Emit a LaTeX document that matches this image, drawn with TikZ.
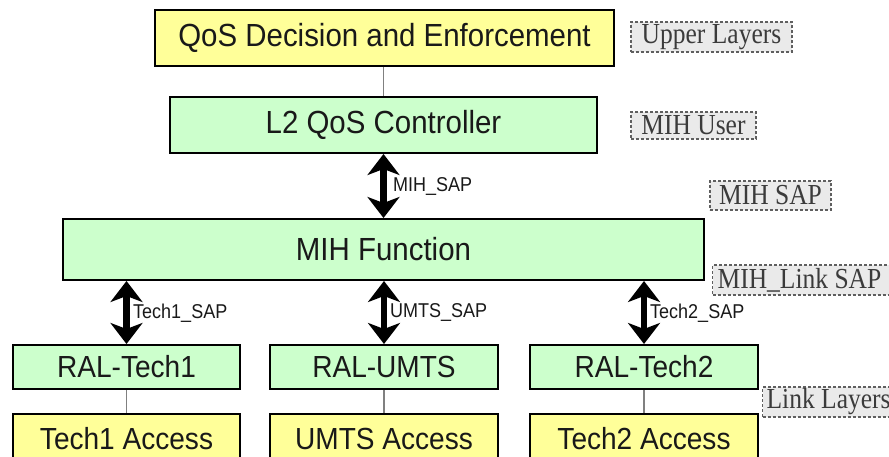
\documentclass[tikz,border=0pt]{standalone}
\usepackage{fontspec}
\setmainfont{Liberation Sans}[FakeStretch=0.92]
\newfontfamily\labfont{Liberation Serif}[FakeStretch=0.88]
\newfontfamily\sapfont{Liberation Sans}[FakeStretch=0.9]
\usetikzlibrary{arrows.meta}
\definecolor{boxyellow}{RGB}{255,255,153}
\definecolor{boxgreen}{RGB}{204,255,204}
\definecolor{labfill}{RGB}{234,234,234}
\definecolor{labdraw}{RGB}{95,95,95}
\definecolor{txt}{RGB}{25,25,25}
\tikzset{
  basebox/.style={draw=black, line width=2pt, inner sep=0pt, text=txt},
  ybox/.style={basebox, fill=boxyellow},
  gbox/.style={basebox, fill=boxgreen},
  bigfont/.style={font=\fontsize{32}{34}\selectfont},
  smallfont/.style={font=\fontsize{30.5}{32}\selectfont},
  layerlab/.style={draw=labdraw, dash pattern=on 3pt off 2pt, line width=1.2pt, fill=labfill,
    inner sep=0pt, text=txt!85!white, font=\labfont\fontsize{29}{30}\selectfont},
  saparrow/.style={line width=6.5pt, {Stealth[width=32pt,length=21pt,inset=6pt]}-{Stealth[width=32pt,length=21pt,inset=6pt]}},
  sublink/.style={draw=gray, line width=1.3pt},
  saplab/.style={anchor=west, inner sep=0pt, text=txt, font=\sapfont\fontsize{20}{22}\selectfont}
}
\begin{document}
\begin{tikzpicture}[x=1pt,y=-1pt]
\useasboundingbox (0,0) rectangle (889,457);
% main boxes
\node[ybox, bigfont, minimum width=459pt, minimum height=56pt] (qos) at (384.5,38) {QoS Decision and Enforcement};
\node[gbox, bigfont, minimum width=427pt, minimum height=56pt] (l2) at (383.5,125) {L2 QoS Controller};
\node[gbox, bigfont, minimum width=641pt, minimum height=61pt] (mih) at (383.5,249.5) {MIH Function};
\node[gbox, smallfont, minimum width=227pt, minimum height=44pt] (ral1) at (126.5,367) {RAL-Tech1};
\node[gbox, smallfont, minimum width=228pt, minimum height=44pt] (ralu) at (384,367) {RAL-UMTS};
\node[gbox, smallfont, minimum width=228pt, minimum height=44pt] (ral2) at (644,367) {RAL-Tech2};
\node[ybox, smallfont, minimum width=227pt, minimum height=52pt, text depth=0pt] (acc1) at (126.5,440) {\raisebox{3pt}{Tech1 Access}};
\node[ybox, smallfont, minimum width=228pt, minimum height=52pt, text depth=0pt] (accu) at (384,440) {\raisebox{3pt}{UMTS Access}};
\node[ybox, smallfont, minimum width=228pt, minimum height=52pt, text depth=0pt] (acc2) at (644,440) {\raisebox{3pt}{Tech2 Access}};
% layer labels
\node[layerlab, minimum width=161pt, minimum height=30pt] (ul) at (711.5,37) {Upper Layers};
\node[layerlab, minimum width=125pt, minimum height=27pt] (mu) at (693.5,125.5) {MIH User};
\node[layerlab, minimum width=121pt, minimum height=29pt] (ms) at (770.5,195.5) {MIH SAP};
\node[layerlab, minimum width=182pt, minimum height=30pt, anchor=west] (mls) at (712,280) {\makebox[172pt][l]{MIH\_Link SAP}};
\node[layerlab, minimum width=134pt, minimum height=30pt, anchor=west] (ll) at (762,402) {\makebox[126pt][l]{Link Layers}};
% thin links
\draw[sublink] (qos.south -| l2.north) -- (l2.north);
\draw[sublink] (ral1) -- (acc1);
\draw[sublink] (ralu) -- (accu);
\draw[sublink] (ral2) -- (acc2);
% SAP arrows
\draw[saparrow] (l2.south) -- (mih.north -| l2.south);
\draw[saparrow] (mih.south -| ral1.north) -- (ral1.north);
\draw[saparrow] (mih.south -| ralu.north) -- (ralu.north);
\draw[saparrow] (mih.south -| ral2.north) -- (ral2.north);
% SAP labels
\node[saplab] (s0) at (393,187) {MIH\_SAP};
\node[saplab] (s1) at (133,313) {Tech1\_SAP};
\node[saplab] (s2) at (390,313) {UMTS\_SAP};
\node[saplab] (s3) at (650,313) {Tech2\_SAP};
\end{tikzpicture}
\end{document}
